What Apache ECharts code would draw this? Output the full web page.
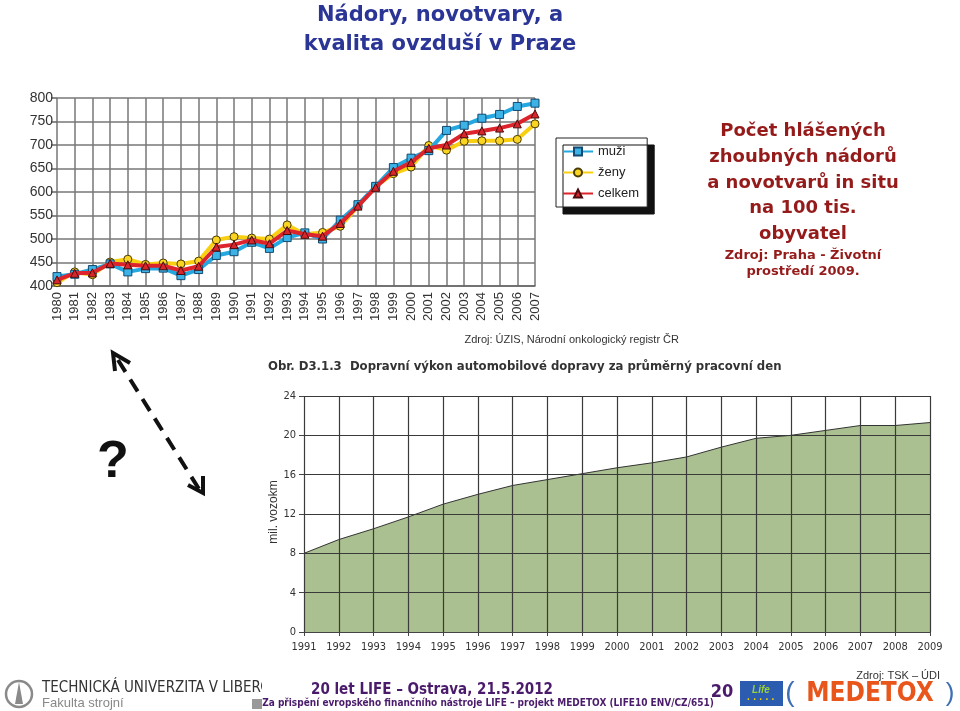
<!DOCTYPE html>
<html><head><meta charset="utf-8">
<script src="https://cdn.jsdelivr.net/npm/echarts@6/dist/echarts.min.js"></script>
<style>html,body{margin:0;padding:0;background:#fff}#c{width:960px;height:711px}</style>
</head><body><div id="c"></div>
<script>
const years1 = ['1980','1981','1982','1983','1984','1985','1986','1987','1988','1989','1990','1991','1992','1993','1994','1995','1996','1997','1998','1999','2000','2001','2002','2003','2004','2005','2006','2007'];
const muzi   = [420,425,435,447,430,437,438,422,435,465,473,493,480,503,513,500,540,573,612,652,672,688,731,742,757,765,782,789];
const zeny   = [407,430,424,451,457,446,449,447,453,498,505,502,500,530,510,514,527,570,612,639,653,699,689,708,709,709,712,745];
const celkem = [413,427,428,448,445,443,443,433,442,483,488,498,490,518,510,506,533,570,610,644,663,693,700,724,730,736,745,766];
const years2 = ['1991','1992','1993','1994','1995','1996','1997','1998','1999','2000','2001','2002','2003','2004','2005','2006','2007','2008','2009'];
const vykon  = [8,9.4,10.5,11.7,13,14,14.9,15.5,16.1,16.7,17.2,17.8,18.8,19.7,20,20.5,21,21,21.3];

const chart = echarts.init(document.getElementById('c'));
const F = 'Liberation Sans, Arial, sans-serif';
const T = 'DejaVu Sans, Verdana, sans-serif';
const N = 'Liberation Sans Narrow, DejaVu Sans Condensed, Arial Narrow, sans-serif';
function txt(text, x, y, font, fill, align, extra) {
  return Object.assign({type:'text', style:{text, x, y, font, fill, textAlign: align||'left', textVerticalAlign:'middle'}}, extra||{});
}
const option = {
  animation: false,
  backgroundColor: '#fff',
  grid: [
    {left: 57, top: 98, width: 478, height: 188},
    {left: 304, top: 396, width: 626, height: 236}
  ],
  legend: {
    left: 556, top: 138, orient: 'vertical',
    data: ['muži','ženy','celkem'],
    itemWidth: 30, itemHeight: 10, itemGap: 8, padding: [7, 8, 7, 6],
    textStyle: {fontSize: 13, color: '#222', fontFamily: F},
    backgroundColor: '#fff', borderColor: '#222', borderWidth: 1,
    shadowColor: '#111', shadowOffsetX: 7, shadowOffsetY: 7, shadowBlur: 0
  },
  xAxis: [
    {type:'category', gridIndex:0, data: years1, boundaryGap:false,
     axisLine:{show:true, lineStyle:{color:'#666', width:1.5}}, axisTick:{show:false},
     axisLabel:{rotate:90, interval:0, fontSize:13, color:'#333', fontFamily:F, margin:6},
     splitLine:{show:true, interval:0, lineStyle:{color:'#777', width:1.5}}},
    {type:'category', gridIndex:1, data: years2, boundaryGap:false, z:3,
     axisLine:{show:true, lineStyle:{color:'#444', width:1}}, axisTick:{show:true, interval:0, length:4, lineStyle:{color:'#444'}},
     axisLabel:{interval:0, fontSize:11, color:'#333', fontFamily:N, margin:10},
     splitLine:{show:true, interval:0, lineStyle:{color:'#3a3a3a', width:1.2}}}
  ],
  yAxis: [
    {type:'value', gridIndex:0, min:400, max:800, interval:50,
     axisLine:{show:false}, axisTick:{show:true, length:6, lineStyle:{color:'#666', width:1.5}},
     axisLabel:{fontSize:14, color:'#333', fontFamily:F, margin:4},
     splitLine:{show:true, lineStyle:{color:'#777', width:1.5}}},
    {type:'value', gridIndex:1, min:0, max:24, interval:4, z:3,
     axisLine:{show:false}, axisTick:{show:true, length:5, lineStyle:{color:'#444'}},
     axisLabel:{fontSize:11, color:'#333', fontFamily:N, margin:8},
     splitLine:{show:true, lineStyle:{color:'#3a3a3a', width:1.2}}}
  ],
  series: [
    {name:'ženy', type:'line', xAxisIndex:0, yAxisIndex:0, data: zeny, z:3,
     lineStyle:{color:'#f9cf12', width:4}, symbol:'circle', symbolSize:8,
     itemStyle:{color:'#f9d423', borderColor:'#4a3c00', borderWidth:1}},
    {name:'muži', type:'line', xAxisIndex:0, yAxisIndex:0, data: muzi, z:4,
     lineStyle:{color:'#25a7e0', width:4}, symbol:'rect', symbolSize:8,
     itemStyle:{color:'#3cb2e6', borderColor:'#124a70', borderWidth:1}},
    {name:'celkem', type:'line', xAxisIndex:0, yAxisIndex:0, data: celkem, z:5,
     lineStyle:{color:'#dd232b', width:4}, symbol:'triangle', symbolSize:8,
     itemStyle:{color:'#d8262c', borderColor:'#4a0c0c', borderWidth:1}},
    {name:'výkon', type:'line', xAxisIndex:1, yAxisIndex:1, data: vykon, z:2,
     symbol:'none', lineStyle:{color:'#333', width:1},
     areaStyle:{color:'#abc091', opacity:1}}
  ],
  graphic: [
    txt('Nádory, novotvary, a', 440, 16, 'bold 21px ' + T, '#2b3596', 'center'),
    txt('kvalita ovzduší v Praze', 440, 45, 'bold 21px ' + T, '#2b3596', 'center'),
    txt('Počet hlášených', 803, 131, 'bold 18px ' + T, '#951b1b', 'center'),
    txt('zhoubných nádorů', 803, 157, 'bold 18px ' + T, '#951b1b', 'center'),
    txt('a novotvarů in situ', 803, 183, 'bold 18px ' + T, '#951b1b', 'center'),
    txt('na 100 tis.', 803, 208, 'bold 18px ' + T, '#951b1b', 'center'),
    txt('obyvatel', 803, 234, 'bold 18px ' + T, '#951b1b', 'center'),
    txt('Zdroj: Praha - Životní', 803, 256, 'bold 13px ' + T, '#951b1b', 'center'),
    txt('prostředí 2009.', 803, 272, 'bold 13px ' + T, '#951b1b', 'center'),
    txt('Zdroj: ÚZIS, Národní onkologický registr ČR', 679, 340, '11px ' + F, '#333', 'right'),
    txt('Obr. D3.1.3  Dopravní výkon automobilové dopravy za průměrný pracovní den', 268, 367, 'bold 13px ' + N, '#333', 'left'),
    {type:'text', x:274, y:512, rotation:Math.PI/2,
     style:{text:'mil. vozokm', x:0, y:0, font:'12px ' + F, fill:'#333', textAlign:'center', textVerticalAlign:'middle'}},
    txt('Zdroj: TSK – ÚDI', 940, 676, '11px ' + F, '#333', 'right'),
    txt('?', 113, 463, 'bold 52px ' + F, '#111', 'center'),
    {type:'polyline', shape:{points:[[118,360],[199,489]]}, style:{stroke:'#111', lineWidth:4, lineDash:[14,9], fill:null}},
    {type:'polyline', shape:{points:[[130,363],[113,353],[115,371]]}, style:{stroke:'#111', lineWidth:4, fill:null}},
    {type:'polyline', shape:{points:[[188,485],[203,493],[203,476]]}, style:{stroke:'#111', lineWidth:4, fill:null}},
    // footer
    {type:'circle', shape:{cx:19, cy:694, r:13}, style:{fill:'#fff', stroke:'#8a8a8a', lineWidth:2.5}},
    {type:'polygon', shape:{points:[[19,682],[15,704],[23,704]]}, style:{fill:'#8a8a8a'}},
    txt('TECHNICKÁ UNIVERZITA V LIBERCI', 42, 688, '15px ' + N, '#333', 'left'),
    {type:'rect', shape:{x:262, y:678, width:14, height:20}, style:{fill:'#fff'}},
    txt('Fakulta strojní', 42, 703, '13px ' + F, '#888', 'left'),
    {type:'rect', shape:{x:252, y:699, width:10, height:10}, style:{fill:'#999'}},
    txt('20 let LIFE – Ostrava, 21.5.2012', 432, 690, 'bold 15px ' + N, '#4a1b6b', 'center'),
    txt('Za přispění evropského finančního nástroje LIFE – projekt MEDETOX (LIFE10 ENV/CZ/651)', 488, 703, 'bold 10px ' + N, '#4a1b6b', 'center'),
    txt('20', 722, 692, 'bold 18px ' + N, '#4a1b6b', 'center'),
    {type:'rect', shape:{x:740, y:681, width:43, height:25}, style:{fill:'#2c5cb0'}},
    txt('Life', 761, 690, 'italic bold 10px ' + F, '#9ad03a', 'center'),
    txt('· · · · ·', 761, 700, 'bold 10px ' + F, '#f5d400', 'center'),
    txt('(', 790, 693, '28px ' + F, '#3d6fb5', 'center'),
    txt(')', 950, 694, '26px ' + F, '#3d6fb5', 'center'),
    txt('MEDETOX', 870, 694, 'bold 26px ' + N, '#e8561c', 'center')
  ]
};
chart.setOption(option);
</script></body></html>
